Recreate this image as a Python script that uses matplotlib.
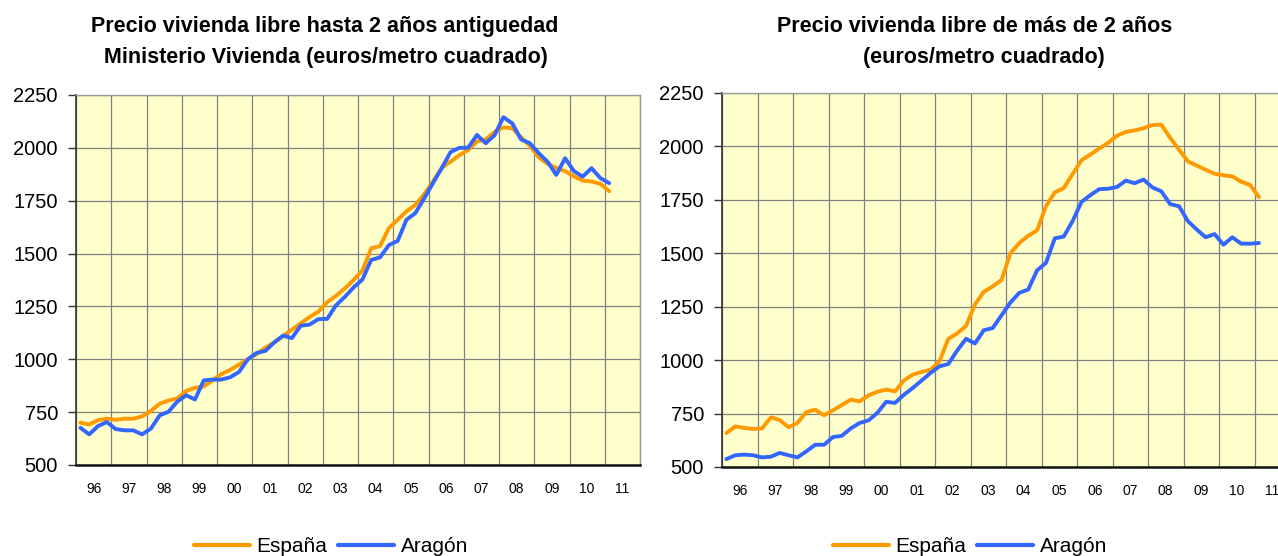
import matplotlib
matplotlib.use("Agg")
import matplotlib.pyplot as plt
import numpy as np

plt.rcParams['font.family'] = ['Liberation Sans', 'DejaVu Sans']

# Quarterly data, 1996 T1 .. 2011 T1
first_year = 1996
year_labels = ["96", "97", "98", "99", "00", "01", "02", "03",
               "04", "05", "06", "07", "08", "09", "10", "11"]

nueva_espana = [700, 692, 712, 719, 714, 719, 719, 730, 755, 790, 805, 815,
                850, 865, 872, 900, 930, 950, 975, 1000, 1025, 1055, 1080, 1110,
                1140, 1170, 1200, 1225, 1270, 1300, 1335, 1375, 1420, 1525, 1535, 1620,
                1660, 1700, 1730, 1780, 1840, 1905, 1935, 1965, 1990, 2030, 2040, 2075,
                2097, 2093, 2050, 2010, 1955, 1925, 1905, 1890, 1865, 1845, 1841, 1830,
                1795]
nueva_aragon = [676, 645, 684, 703, 670, 664, 664, 645, 672, 735, 752, 800,
                830, 810, 900, 904, 904, 915, 940, 1000, 1030, 1040, 1080, 1112,
                1100, 1159, 1164, 1190, 1191, 1255, 1295, 1340, 1377, 1470, 1482, 1540,
                1560, 1660, 1691, 1760, 1833, 1904, 1980, 2000, 2001, 2061, 2022, 2060,
                2145, 2116, 2040, 2022, 1975, 1935, 1872, 1951, 1890, 1864, 1904, 1857,
                1833]

usada_espana = [659, 690, 683, 678, 680, 732, 720, 686, 706, 757, 768, 742,
                765, 790, 815, 807, 835, 852, 862, 854, 905, 932, 945, 955,
                994, 1100, 1125, 1160, 1260, 1320, 1345, 1375, 1500, 1548, 1582, 1607,
                1720, 1785, 1805, 1870, 1935, 1962, 1990, 2016, 2050, 2068, 2075, 2085,
                2100, 2102, 2040, 1985, 1930, 1910, 1891, 1872, 1865, 1860, 1835, 1820,
                1763]
usada_aragon = [537, 555, 558, 555, 545, 548, 566, 555, 545, 573, 604, 604,
                640, 646, 680, 706, 718, 753, 805, 800, 838, 870, 905, 940,
                971, 982, 1045, 1100, 1078, 1140, 1150, 1210, 1270, 1315, 1330, 1420,
                1455, 1570, 1578, 1650, 1740, 1772, 1800, 1802, 1810, 1840, 1828, 1845,
                1808, 1790, 1730, 1720, 1650, 1611, 1575, 1590, 1540, 1575, 1545, 1545,
                1548]

titles = [("Precio vivienda libre hasta 2 años antiguedad",
           "Ministerio Vivienda (euros/metro cuadrado)"),
          ("Precio vivienda libre de más de 2 años",
           "(euros/metro cuadrado)")]
series_names = ["España", "Aragón"]
colors = ["#FF9900", "#3366FF"]

W, H = 1278, 556
fig = plt.figure(figsize=(W / 100, H / 100), dpi=100)
fig.patch.set_facecolor("white")


def px_axes(l, t, r, b):
    return fig.add_axes([l / W, (H - b) / H, (r - l) / W, (b - t) / H])


axes = [px_axes(76, 95, 640, 465), px_axes(722, 93, 1290, 467)]
data = [(nueva_espana, nueva_aragon), (usada_espana, usada_aragon)]

for ax, (esp, ara) in zip(axes, data):
    ax.set_facecolor("#FFFFCC")
    x = first_year + (np.arange(len(esp)) + 0.5) / 4.0
    ax.plot(x, esp, color=colors[0], lw=2.8, solid_capstyle='round',
            solid_joinstyle='round', label=series_names[0], zorder=3)
    ax.plot(x, ara, color=colors[1], lw=2.8, solid_capstyle='round',
            solid_joinstyle='round', label=series_names[1], zorder=4)
    ax.set_xlim(first_year, first_year + len(year_labels))
    ax.set_ylim(500, 2250)
    ax.set_yticks(np.arange(500, 2251, 250))
    ax.set_xticks(np.arange(first_year, first_year + len(year_labels) + 1))
    ax.set_xticklabels([])
    ax.set_xticks(np.arange(len(year_labels)) + first_year + 0.5, minor=True)
    ax.set_xticklabels(year_labels, minor=True)
    ax.tick_params(axis='x', which='both', length=0)
    ax.tick_params(axis='x', which='minor', labelsize=10, pad=12)
    ax.tick_params(axis='y', labelsize=14.5, length=6, width=1, color='#333333',
                   pad=7, direction='out')
    ax.grid(True, which='major', color='#808080', lw=0.9)
    ax.set_axisbelow(True)
    for s in ['top', 'right']:
        ax.spines[s].set_color('#999999')
        ax.spines[s].set_linewidth(1.0)
    ax.spines['left'].set_color('#333333')
    ax.spines['left'].set_linewidth(1.2)
    ax.spines['bottom'].set_color('#111111')
    ax.spines['bottom'].set_linewidth(1.8)

for (l1, l2), cx1, cx2 in zip(titles, [325, 975], [326, 984]):
    fig.text(cx1 / W, 1 - 32 / H, l1, ha='center', va='baseline', fontsize=15.5,
             fontweight='bold')
    fig.text(cx2 / W, 1 - 63 / H, l2, ha='center', va='baseline', fontsize=15.5,
             fontweight='bold')

for ax, cx in zip(axes, [331, 970]):
    handles, labels = ax.get_legend_handles_labels()
    leg = fig.legend(handles, labels, loc='center', bbox_to_anchor=(cx / W, 1 - 547 / H),
                     ncol=2, frameon=False, fontsize=15, handlelength=2.7,
                     handletextpad=0.3, columnspacing=0.5, borderaxespad=0)
    for l in leg.get_lines():
        l.set_linewidth(3)

fig.savefig("out.png", dpi=100)
